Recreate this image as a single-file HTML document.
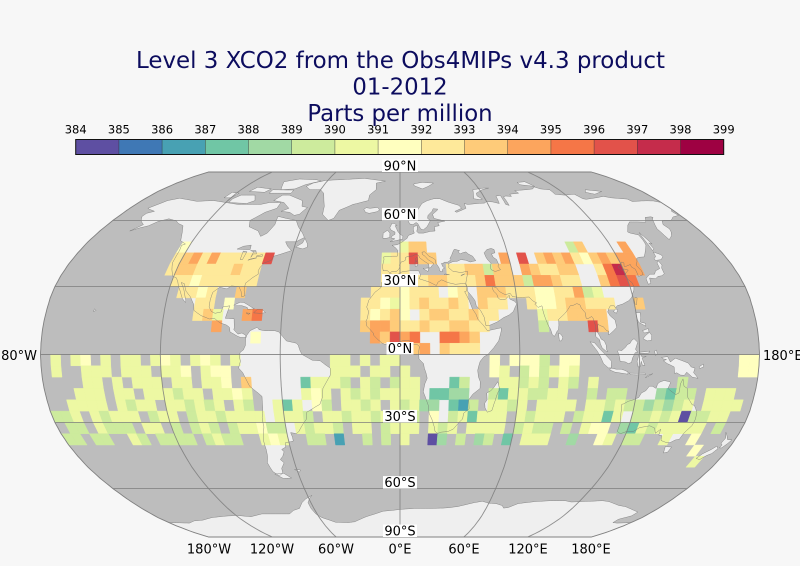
<!DOCTYPE html>
<html><head><meta charset="utf-8"><style>
html,body{margin:0;padding:0;background:#f7f7f7;}
svg{display:block;}
text{font-family:"DejaVu Sans","Liberation Sans",sans-serif;}
</style></head><body>
<svg id="s" xmlns="http://www.w3.org/2000/svg" width="800" height="566" viewBox="0 0 800 566">
<rect width="800" height="566" fill="#f7f7f7"/>
<g fill="#0c0c5e" font-size="22.8" text-anchor="middle">
<text x="400.5" y="68" textLength="529" lengthAdjust="spacingAndGlyphs">Level 3 XCO2 from the Obs4MIPs v4.3 product</text>
<text x="400" y="94.5">01-2012</text>
<text x="400" y="121">Parts per million</text>
</g>
<g id="cbar"></g>
<g id="map"></g>
<g font-size="13" fill="#000">
<rect x="382" y="159.5" width="36" height="12.5" fill="#fff"/><text x="400" y="170.5" text-anchor="middle">90°N</text>
<rect x="382" y="207.9" width="36" height="12.5" fill="#fff"/><text x="400" y="218.9" text-anchor="middle">60°N</text>
<rect x="382" y="274.1" width="36" height="12.5" fill="#fff"/><text x="400" y="285.1" text-anchor="middle">30°N</text>
<rect x="386.5" y="342" width="27" height="12.5" fill="#fff"/><text x="400" y="353" text-anchor="middle">0°N</text>
<rect x="383" y="409.9" width="34" height="12.5" fill="#fff"/><text x="400" y="420.9" text-anchor="middle">30°S</text>
<rect x="383" y="476.1" width="34" height="12.5" fill="#fff"/><text x="400" y="487.1" text-anchor="middle">60°S</text>
<rect x="383" y="524.5" width="34" height="12.5" fill="#fff"/><text x="400" y="535.5" text-anchor="middle">90°S</text>
<text x="37" y="360" text-anchor="end">180°W</text>
<text x="763" y="360">180°E</text>
<text x="209" y="553.5" text-anchor="middle">180°W</text>
<text x="272" y="553.5" text-anchor="middle">120°W</text>
<text x="336" y="553.5" text-anchor="middle">60°W</text>
<text x="400" y="553.5" text-anchor="middle">0°E</text>
<text x="464" y="553.5" text-anchor="middle">60°E</text>
<text x="528" y="553.5" text-anchor="middle">120°E</text>
<text x="591" y="553.5" text-anchor="middle">180°E</text>
</g>
</svg>
<script>
(function(){
var NS='http://www.w3.org/2000/svg';
function el(tag,attrs,parent){var e=document.createElementNS(NS,tag);for(var k in attrs)e.setAttribute(k,attrs[k]);parent.appendChild(e);return e;}
var COLORS=['#5e4fa2','#3f78b5','#48a1b3','#70c6a5','#a1d9a4','#cdeb9d','#edf8a3','#ffffbf','#fee99a','#fecb79','#fca55d','#f57647','#e2524a','#c52c4b','#9e0142'];
var cb=document.getElementById('cbar');
var x0=75.7,w=43.2;
for(var i=0;i<15;i++){el('rect',{x:x0+i*w,y:139.5,width:w+0.3,height:15,fill:COLORS[i]},cb);}
for(var i=1;i<15;i++){el('line',{x1:x0+i*w,y1:139.5,x2:x0+i*w,y2:154.5,stroke:'#333',"stroke-width":0.6,"stroke-opacity":0.7},cb);}
el('rect',{x:x0,y:139.5,width:648,height:15,fill:'none',stroke:'#111',"stroke-width":1},cb);
for(var i=0;i<16;i++){var t=el('text',{x:x0+i*w,y:133.5,"text-anchor":"middle","font-size":"11.5",fill:'#000'},cb);t.textContent=String(384+i);}
var XT=[1,.9986,.9954,.99,.9822,.973,.96,.9427,.9216,.8962,.8679,.835,.7986,.7597,.7186,.6732,.6213,.5722,.5322];
var YT=[0,.062,.124,.186,.248,.31,.372,.434,.4958,.5571,.6176,.6769,.7346,.7903,.8435,.8936,.9394,.9761,1];
var CX=400,CY=354.5,A=359.5,B=182.5;
function itp(T,a){a=Math.min(90,Math.abs(a));var k=Math.min(17,Math.floor(a/5));var t=(a-5*k)/5;return T[k]+(T[k+1]-T[k])*t;}
function P(lon,lat){var X=itp(XT,lat),Y=itp(YT,lat)*(lat<0?-1:1);return [CX+A*X*lon/180,CY-B*Y];}
function dens(pts,closed){var out=[];var n=pts.length;var m=closed?n:n-1;
 for(var i=0;i<m;i++){var a=pts[i],b=pts[(i+1)%n];var d=Math.max(Math.abs(b[0]-a[0]),Math.abs(b[1]-a[1]));var s=Math.max(1,Math.ceil(d/2));
  for(var k=0;k<s;k++){out.push([a[0]+(b[0]-a[0])*k/s,a[1]+(b[1]-a[1])*k/s]);}}
 if(!closed)out.push(pts[n-1]);return out;}
function pathOf(pts,closed){var q=dens(pts,closed).map(function(p){return P(p[0],p[1]);});
 return 'M'+q.map(function(p){return p[0].toFixed(1)+','+p[1].toFixed(1);}).join('L')+(closed?'Z':'');}
var map=document.getElementById('map');
var svg=document.getElementById('s');
var defs=el('defs',{},svg);
var ol=[];for(var la=90;la>=-90;la-=2.5)ol.push([180,la]);for(var la=-90;la<=90;la+=2.5)ol.push([-180,la]);
var olD=pathOf(ol,true);
var cp=el('clipPath',{id:'clipm'},defs);el('path',{d:olD},cp);
el('path',{d:olD,fill:'#bdbdbd'},map);
var g=el('g',{"clip-path":"url(#clipm)"},map);
var LAND=[
[[-168,66],[-162,70],[-156,71.3],[-141,69.6],[-130,70],[-120,69],[-110,68],[-95,68],[-90,69],[-82,69],[-82,66],[-88,64],[-94,60],[-92,57],[-85,55],[-82,52.5],[-79,54],[-77,58],[-78,62],[-72,61],[-65,60],[-62,57],[-58,54],[-56,52],[-60,50],[-66,50],[-64,48],[-61,46],[-66,44.5],[-70,43.5],[-70.5,41.7],[-74,40.5],[-75.5,38.5],[-76,37],[-75.5,35.5],[-78,34],[-81,31.5],[-81,28.5],[-80,26],[-81.5,25.5],[-82.5,28],[-84,30],[-88,30.3],[-90,29],[-94,29.7],[-97,27.5],[-97.5,24],[-97.5,21],[-96,19],[-94,18.2],[-91,18.8],[-90.5,21],[-87,21.5],[-88,18],[-88.5,16],[-84,15.8],[-83.5,12],[-83.7,11],[-81.5,9],[-79.5,9.5],[-77.5,8.5],[-77.5,7.5],[-80,7.5],[-81.5,8],[-85.5,10],[-86,12],[-87.5,13],[-91,14],[-94,16],[-96.5,15.7],[-101,17.2],[-105,19.5],[-105.5,22],[-108,25.5],[-111,28],[-113,31.3],[-114.8,31.8],[-112.5,29],[-110,24],[-110,23],[-112,24.8],[-114,28],[-115.5,30],[-117,32.5],[-118.5,34],[-120.5,34.5],[-122.5,37.5],[-124,40.5],[-124,46],[-124.7,48.4],[-123,49],[-127,50.5],[-130,54.5],[-133,57.5],[-137,58.5],[-140,59.8],[-146,60.8],[-151,59.5],[-154,57.5],[-158,56.5],[-162,55],[-158,58],[-162,59.8],[-165,62],[-164.5,63.5],[-161,64.5],[-166,65.5]],
[[-80,73],[-72,71],[-68,70],[-66,67],[-62,66.5],[-65,63],[-68,62.5],[-72,64],[-78,64.5],[-74,66],[-80,69],[-88,70],[-85,73]],
[[-118,69],[-105,68.5],[-101,70],[-105,73],[-115,73],[-118,71]],
[[-90,76],[-80,76.5],[-75,79],[-65,81.5],[-70,82.5],[-85,83],[-95,81],[-92,78]],
[[-125,71.5],[-120,71.5],[-118,74],[-124,74.5]],
[[-96,74],[-80,74],[-80,75.8],[-96,76]],
[[-112,75],[-100,74.5],[-98,76.5],[-110,77.5]],
[[-73,78],[-68,76],[-60,76],[-56,74],[-53,70],[-51,67],[-50,63],[-45,60],[-42,61],[-40,65],[-32,68],[-22,70],[-22,73],[-18,76],[-19,80],[-12,81.5],[-30,83.5],[-50,82.5],[-62,82],[-70,80]],
[[-59.3,47.6],[-56,49.5],[-55.5,51.6],[-53,49],[-52.7,47.5],[-55,46.8]],
[[-85,21.8],[-82,23.1],[-80,23],[-77.5,21.8],[-75,20.5],[-74.2,20.2],[-77.5,19.8],[-78,20.8],[-81,21.6],[-84.5,21.5]],
[[-74.5,18.4],[-72.8,19.9],[-70,19.7],[-68.4,18.5],[-71,18.2]],
[[-78.3,18.4],[-76.2,18.2],[-77,17.7]],
[[-156,19],[-154.8,19.5],[-155.8,20.2]],
[[-77,8.5],[-75.5,10.5],[-72,12],[-71,11],[-68,10.5],[-63,10.5],[-61,10],[-57,6],[-52,5],[-51,4],[-50,1.5],[-49,0],[-44,-2.5],[-40,-2.8],[-37,-4.8],[-35,-6],[-35,-9],[-37,-12],[-39,-15],[-39.5,-19],[-41,-22],[-43,-23],[-48,-25.5],[-48.5,-28.5],[-51,-31],[-53.5,-34],[-55,-35],[-58,-34.5],[-57.5,-36.5],[-57.5,-38.3],[-62,-39],[-62.5,-41],[-65,-42],[-64,-43],[-65.5,-45],[-67.5,-46.5],[-66,-48],[-68.5,-50.5],[-69,-52.5],[-70.5,-53.5],[-72,-53.8],[-74.5,-52],[-75.5,-48],[-74,-45],[-73.5,-42],[-73.5,-38],[-71.5,-32],[-71.5,-28],[-70.5,-24],[-70.2,-18.5],[-72,-17],[-76,-14],[-79,-8],[-81,-6],[-80,-3],[-80.5,-0.5],[-80,1],[-78.5,2],[-77.5,4],[-77.5,7]],
[[-68.5,-52.8],[-65,-55],[-70,-55.2],[-74,-53.2]],
[[-61.3,-51],[-58,-51.3],[-59,-52.3]],
[[-17,21],[-16,24],[-13,27.5],[-10,29.5],[-9.5,32],[-6.5,34],[-5.5,35.8],[-2,35],[1,36.5],[5,37],[10,37],[11,35],[10,33.5],[13,32.7],[15.5,32],[19,30.5],[20,32],[22,33],[25,31.8],[29,31],[32,31.3],[34.3,31.3],[34.9,29.5],[34.3,27.9],[33.5,27.8],[35.5,24],[37,20],[38.5,18],[39.5,15.5],[42,13],[43.3,11.5],[44,10.5],[51,11.8],[51,10.5],[49.5,6],[47,3],[44,0],[42,-1],[40.2,-3],[39.5,-5],[39,-7],[39.5,-10],[40.5,-12],[40.5,-15],[37,-17.5],[35,-20],[35.5,-24],[32.8,-26],[32.5,-28.5],[31,-29.8],[28,-33],[25.5,-34],[22,-34.3],[20,-34.8],[18.5,-34],[18,-32],[16.5,-28.5],[15,-26],[14.5,-22.5],[13,-19],[11.8,-16.5],[12.5,-13],[13.7,-10.5],[13,-8],[12.2,-6],[11.8,-4],[9.5,-2],[9.3,1],[9.7,3.5],[8.5,4.5],[6,4.3],[4.5,6.3],[1,6],[-2,4.7],[-4.5,5.2],[-7.5,4.4],[-9,5],[-11.5,6.9],[-13.2,8.5],[-13.5,9.5],[-15,11],[-16.7,12.5],[-17.2,14.7],[-16.5,16],[-16,19]],
[[49.3,-12],[50.5,-15.5],[49.5,-17],[48.5,-20.5],[47.2,-24.8],[45,-25.5],[43.6,-23.5],[43.3,-21.5],[44.4,-20],[44,-17],[46,-16],[47.5,-14.5]],
[[-9,37],[-9.5,39],[-8.8,42],[-9,43.2],[-4,43.5],[-1.5,43.5],[-1.2,46],[-2.5,47.3],[-4.5,48.4],[-1.5,48.7],[1.5,50],[3,51],[4,51.5],[5,53],[7,53.5],[8.5,54],[8,55.5],[8.2,57],[10.5,57.7],[10.5,56],[10,54.8],[11,54],[14,54],[18,54.8],[21,55],[21,57],[24,57.5],[23.5,59],[28,59.7],[25,60.3],[21.5,61],[21,63],[24.5,65],[25,65.6],[22,65.8],[21,64.5],[18,62.5],[17.5,61],[19,60],[18.5,59.3],[16.5,57],[14,55.5],[12.5,56],[11,58.5],[10,59],[8,58],[6,58.3],[5,60],[5,62],[8,63.5],[11,64.5],[13,66.5],[15,68.5],[19,70],[24,71],[28,71],[31,70],[33,69.3],[40,67.5],[41,66],[36,64.5],[37,64],[44,66],[44,68.5],[46,68],[53,68.5],[58,68.7],[60,69.5],[64,69.3],[68,68.5],[69,72.5],[72.5,72.8],[72,68],[74,67.5],[74,72],[76,72.5],[80,72.3],[80,73.5],[87,74],[86,75.5],[95,76],[101,76.5],[104,77.7],[107,76.5],[113,76],[113,73.5],[119,73],[127,73.5],[129,71],[131,70.7],[139,71.5],[146,72.3],[150,71.5],[160,70.8],[161,69.5],[168,69.8],[171,69.9],[176,69.8],[180,69],[180,65.5],[178,64.5],[179,62.5],[174,61.7],[170,60],[164,59.8],[162,58],[163,56],[162,54.5],[160,52.8],[156.5,51],[156,53],[155.5,56],[156.8,57.8],[159,60.5],[161,61.5],[160,61.8],[156,61.5],[153,59.2],[148,59.3],[143,59.3],[140,57.8],[136,54.5],[137,54],[141,53.2],[141,51],[140.5,48.5],[138,46],[135,43.2],[132,43],[130.5,42.6],[129.5,41],[128,39.5],[129.4,37],[129.3,35.3],[126.5,34.5],[126.5,37.7],[125,38.7],[125,39.8],[122.2,39],[121.2,39],[122,40.5],[121,40.9],[119,39.2],[118,39],[117.7,38.5],[119,37.2],[120.5,37.8],[122.5,37.3],[120.5,36],[119.2,34.8],[120.5,33],[121.8,31.7],[122,30],[121.5,28.5],[120,26.5],[119.5,25.4],[117.5,23.8],[114,22.3],[111,21.5],[110,20.5],[109.5,21.5],[107.5,21.5],[106.5,20.3],[105.7,18.8],[106.7,17],[108.8,15.3],[109.3,12],[107.5,10.5],[105.5,9],[104.8,8.7],[105,10.3],[104,10.5],[102.5,12.3],[100.8,12.8],[100,13.5],[99.2,10],[100.3,8.3],[101,6.8],[102.5,6],[103.4,4],[103.5,2],[104.2,1.3],[103.5,1.3],[101.3,2.9],[100.4,4.8],[100.2,6.5],[98.3,8],[98.5,10],[98.7,12.5],[97.8,16],[97.2,16.8],[95.5,16],[94.3,16],[94.2,18.5],[92.5,20.5],[92,22],[90.5,22.5],[88.5,21.7],[87,21.5],[85.5,19.8],[84,18.3],[82.3,17],[80.3,15.5],[80.2,13],[79.8,11],[79,10.2],[78.2,8.9],[77.5,8],[76.5,8.9],[75.8,11.2],[74.8,12.8],[74,15],[73.2,17.5],[72.8,19.5],[72.7,21],[72.5,21.5],[70.5,20.8],[69,22.3],[70,22.8],[68.5,23.5],[67.3,24.5],[66.5,25.4],[64.5,25.3],[61.5,25.2],[58,25.6],[57,27],[54.5,26.5],[53.5,26.8],[51.5,27.9],[50.2,29.5],[48.5,30],[48,29.5],[48.5,28],[50,26.7],[50.5,25],[51.5,24.3],[54,24.2],[55.5,25.5],[56.3,26.2],[56.5,24.5],[58.8,23.5],[59.8,22.4],[58.5,20.5],[57.7,19],[55.5,17.5],[52.5,16.3],[49,14.3],[45,12.8],[43.4,12.7],[42.8,15.5],[42.7,16.5],[41,19.5],[39,21.5],[38.5,23.8],[37,25.8],[35,28],[35,29.5],[34.5,31.5],[35,33],[35.9,35.5],[36.1,36.8],[32.5,36.2],[30.5,36.5],[28.2,36.8],[27.4,37.5],[26.3,38.3],[26.5,39.5],[26.2,40.1],[28.9,41.1],[31.3,41.2],[33.5,42],[36,41.7],[38.4,40.9],[41.5,41.5],[40.2,43.5],[38,44.5],[36.9,45.4],[35,45],[33.5,44.5],[32.5,45.5],[33.5,46],[31,46.6],[30.5,46.5],[29.5,45.3],[28.7,44],[27.5,42.5],[28,41.9],[26,40.8],[24,40.8],[23.5,40.2],[22.6,40.3],[23,39],[24,38.2],[23,37.8],[22.5,36.5],[21.3,37],[21.1,38.3],[20.2,39.5],[19.4,40.4],[19.5,41.8],[18.5,42.5],[16,43.5],[15.2,44.3],[13.7,45.5],[12.3,45.3],[12.4,44.3],[13.8,43.5],[15.5,41.9],[16.8,41.2],[18.5,40.2],[17,39],[16.6,38.4],[15.7,38.2],[15.6,40],[14,40.8],[12.5,41.7],[11,42.7],[10.2,43.9],[8.8,44.4],[7,43.6],[4.5,43.4],[3.1,43],[3.2,41.9],[2,41.2],[0.8,41],[-0.3,39.5],[0,38.8],[-0.7,37.6],[-2,36.7],[-4.4,36.7],[-5.4,36],[-6.5,36.9],[-7.4,37.2]],
[[-5.7,50],[1.5,51.2],[1.7,52.7],[0,53.5],[-1.5,55],[-2,56],[-3,57.5],[-1.8,57.6],[-3.5,58.6],[-5,58.6],[-6.2,56.5],[-5.5,55.5],[-3,54.5],[-3,53.4],[-4.5,52.8],[-5.3,51.8],[-3,51.4]],
[[-6,52],[-6,54],[-7.5,55.3],[-10,54],[-10,51.6],[-8,51.6]],
[[-22.5,64],[-20,63.5],[-15,64.3],[-13.5,65.2],[-15,66.5],[-20,66],[-22.5,66.3],[-24,65.5]],
[[11,78.5],[17,76.5],[22,78],[27,80],[18,80.5],[11,79.5]],
[[52,71],[56,70.5],[58,70.8],[55.5,72.5],[56,74],[62,76],[68,77],[64,77],[55,76]],
[[95,79],[105,78],[102,81],[95,80.5]],
[[137,74.5],[142,73.5],[150,75],[140,76]],
[[12.4,38],[15.6,38.3],[15,36.7]],
[[8.2,39],[9.6,39.2],[9.8,41],[8.2,41]],
[[8.6,41.4],[9.5,41.4],[9.5,43],[8.6,42.5]],
[[23.5,35.3],[26.3,35.2],[24,35.6]],
[[32.3,34.7],[34.5,35.6],[33,35.3]],
[[130,31],[131.5,31.5],[132,33.8],[135,33.5],[136.8,34.5],[139,34.8],[140.8,35.7],[141,38.3],[142,39.5],[141.4,41.4],[140,40.5],[139.8,38],[137,37],[135.5,35.5],[133,35.5],[131,34.3],[130,33.5]],
[[140,41.5],[141,41.7],[143.5,42],[145.5,43.3],[145,44.2],[141.8,45.4],[141.5,43.3],[140,42.5]],
[[142,46],[143.5,46.8],[143,49.5],[144.5,49],[143.3,52.5],[142.5,54.3],[142,51]],
[[120.2,22.5],[121,22],[122,25],[121,25.3]],
[[108.6,19],[110,18.2],[111,19.7],[110,20.2]],
[[79.8,9.5],[81,8.8],[81.8,7.5],[81,6],[80,6],[79.8,8]],
[[95.3,5.6],[97.5,5.2],[100.3,2.3],[103.7,-0.9],[106,-3],[106,-5.9],[104.5,-5.9],[102,-4],[100.4,-1],[98.7,1.7]],
[[105.2,-6.8],[106,-6],[108.5,-6.5],[111,-6.5],[112.5,-6.9],[114.5,-7.7],[114.5,-8.7],[111,-8.2],[108,-7.8]],
[[115,-8.2],[119,-8.3],[123,-8.2],[123.5,-8.8],[119,-9],[116,-8.9]],
[[123.5,-10.3],[127,-8.5],[124.5,-9.3]],
[[109,1.5],[110,-1.3],[110.3,-3],[113,-3.3],[114.5,-4],[116,-3.5],[116.5,-1.5],[117.8,0.8],[119,1],[118,2.3],[119.2,5.4],[117.5,7],[116.2,6.2],[115.3,4.9],[114,4.4],[113,3.2],[111,1.7],[109.6,2]],
[[119.4,-5.5],[120.4,-5.5],[120.9,-3],[121.5,-4.7],[122.8,-4.8],[121.2,-1.5],[123.3,-0.9],[121,-0.9],[120.3,0.5],[124.5,0.6],[125.2,1.5],[120,1],[119.5,-0.5],[118.8,-3]],
[[127.5,1.5],[128.5,2],[128.8,0.5],[128,-0.5]],
[[131,-1.3],[134,-0.9],[135.5,-3.3],[138,-1.6],[141,-2.6],[144.5,-3.8],[146,-5.5],[148,-6],[147.5,-8],[150,-10.5],[147,-10],[144,-7.8],[143,-9.2],[141,-9.1],[139,-8.1],[138,-8.4],[137.5,-5.5],[134,-4],[132,-2.8],[133.5,-2.2],[132,-2]],
[[150,-5.5],[152,-4.2],[152.3,-5.5],[150.5,-6.2]],
[[120,18.5],[122.2,18.5],[122,16.3],[121.5,14.3],[124,13.8],[124,12.5],[123,13],[120.6,14.2],[120,16]],
[[122,10.5],[125,11.5],[125.3,10],[123,9.5]],
[[122,7],[124,6],[126.2,6.3],[126.5,8.5],[125.5,9.8],[123.5,8.5]],
[[113.5,-22],[114,-26],[115,-30],[115,-34],[117,-35],[120,-34],[123.5,-34],[126,-32.3],[131,-31.5],[134,-32.5],[135.5,-34.8],[137.5,-33],[137.8,-35.6],[139.5,-35.8],[140.5,-38],[143.5,-38.8],[146,-39],[148,-37.8],[150,-37.5],[150.5,-35],[151.5,-33.5],[153,-31.5],[153.5,-28.5],[153,-25.5],[150.8,-22.5],[149.5,-22.2],[146.5,-19],[145.3,-15],[143.5,-14],[142.5,-10.8],[141.5,-13],[141.5,-17],[140,-17.7],[137,-16],[135.5,-15],[136.5,-12.5],[136,-12],[133,-11.5],[131,-12.2],[130,-13],[129.5,-15],[127.5,-14],[126,-14],[124.5,-16],[122.5,-17],[121.5,-19],[119,-20],[116.5,-20.7],[114.5,-21.8]],
[[144.7,-40.7],[148.3,-40.9],[148,-43.2],[146,-43.6]],
[[172.7,-34.4],[174.5,-36],[176,-37.6],[178.5,-37.7],[177.5,-39.3],[176,-41.3],[174.7,-41.3],[175,-40],[173.8,-39.2],[174.5,-37]],
[[172.7,-40.5],[174.3,-41.7],[173,-43.8],[171,-44.7],[169,-46.6],[166.5,-46],[168,-44],[171,-42]],
[[-180,-78],[-165,-78.3],[-158,-77],[-150,-76.5],[-140,-75],[-130,-74.3],[-120,-73.8],[-110,-74.5],[-100,-73],[-90,-73],[-80,-73],[-75,-71],[-70,-70],[-66,-67],[-62,-65],[-57,-63.3],[-59,-64.5],[-62,-67],[-62,-70],[-61,-73],[-58,-75],[-50,-77.8],[-40,-78],[-35,-77.5],[-30,-76],[-25,-74.5],[-18,-73],[-12,-71.5],[-5,-71],[0,-70.5],[10,-70],[20,-70],[30,-69.8],[35,-69.5],[40,-69],[45,-68],[50,-67],[55,-66.3],[60,-67.3],[65,-67.5],[70,-68.5],[72,-69.8],[75,-69.5],[80,-67.5],[85,-67],[90,-66.5],[100,-66],[110,-66],[115,-66.7],[120,-66.5],[130,-66.2],[135,-66],[140,-66.5],[145,-67.5],[150,-68.5],[155,-69],[160,-70],[165,-71],[170,-72],[170,-74],[165,-76],[166,-78],[170,-78.3],[180,-78],[180,-90],[-180,-90]]
];
var WATER=[
[[47,45],[49,46.5],[51.5,47],[53,46.5],[53,45],[51,44.5],[51.5,43],[53,42],[53.5,40],[53,39],[54,37.5],[51,36.7],[49,37.5],[48.8,38.5],[49.5,40.3],[48,42],[47.5,43]],
[[-92,46.7],[-89,48],[-85,48.5],[-84.5,46.5],[-87,46.5]],
[[-87.8,42],[-86.5,42],[-85.8,45.5],[-88,45.8]],
[[-84,46],[-82,45.5],[-82.4,43],[-81.7,44.5],[-80,44.5],[-81,46]],
[[-83.4,41.7],[-79,42.8],[-80.5,42.6],[-82.5,42.2]],
[[-79.5,43.3],[-76.2,43.5],[-76.5,44.2],[-79.4,43.7]]
];
var landD=LAND.map(function(p){return pathOf(p,true);});
var waterD=WATER.map(function(p){return pathOf(p,true);});
landD.forEach(function(d){el('path',{d:d,fill:'#efefef'},g);});
waterD.forEach(function(d){el('path',{d:d,fill:'#bdbdbd'},g);});
var cells=el('g',{},g);
function cell(lon0,lat0,b){var c=[P(lon0,lat0),P(lon0+5,lat0),P(lon0+5,lat0+5),P(lon0,lat0+5)];
 el('polygon',{points:c.map(function(p){return p[0].toFixed(1)+','+p[1].toFixed(1);}).join(' '),fill:COLORS[b],stroke:COLORS[b],"stroke-width":0.45},cells);}
function row(lat0,spec){spec.split(' ').forEach(function(seg){var pr=seg.split(':');var i=+pr[0];var ch=pr[1];
 for(var k=0;k<ch.length;k++){var c=ch[k];if(c!=='.'){cell(-180+5*i,lat0,parseInt(c,16));}i++;}});}
row(45,"11:7 36:699 55:59 61:a");
row(40,"11:89a8a88888c 34:688c99 47:a.c.9a9a879a9aa");
row(35,"11:8998888988 34:888....8899599.a98899..8bdaa");
row(30,"12:887888888 34:88888998889b9995aa988..9bcb");
row(25,"13:8878..9 33:8887888.78.9998887788a56");
row(20,"15:88.7 32:88767898898.988..877899888..9");
row(15,"15:896..ab 32:87897.89988988....6889999");
row(10,"17:a 32:9aa9889889988 50:5 55:c9");
row(5,"21:7 33:a9cab..bba9");
row(0,"37:9a.9888");
row(-5,"0:"+".6.67.6.66.676.676.6"+"........."+"66.6.66"+"........."+"7.7775.77.."+".............."+"77");
row(-10,"0:"+".6..666.666.667.677."+"........."+"666.66."+"6........"+"76.575676.."+".............."+"77");
row(-15,"0:"+"....66.6.666.66.667."+"9.....366"+"65.65.5"+"66...35.."+".66565.65.6"+"........5....."+"..");
row(-20,"0:"+"...666.66.666566.667"+"6.....676"+".656566"+"66.3344.."+"53665566..5"+".55...4355.666"+"..");
row(-25,"0:"+"..6666.6566.665656.6"+"5..636.75"+".6656.6"+"5644.325."+"6656.6666.6"+"6565545456.666"+"6.");
row(-30,"0:"+"556.65666.566.566566"+"66.6665.6"+"6566566"+"65.7.5636"+"66.65666.56"+"636.5565605566"+"..");
row(-35,"0:"+".55.6555.66.5.565.56"+"6755.6566"+"5.66.56"+"66.656.66"+"66.5655.5.6"+"77.436566666.5"+"..");
row(-40,"0:"+"55.55..65."+"5555.5655."+".676..55.2"+"..5.5.6..0"+"4.5.45.3.6"+"66..4..76."+"55..6..7.."+"..");
row(-45,"68:7");
row(-50,"69:6");
landD.forEach(function(d){el('path',{d:d,fill:'none',stroke:'#6e6e6e',"stroke-width":0.45,"stroke-opacity":0.85},g);});
waterD.forEach(function(d){el('path',{d:d,fill:'none',stroke:'#6e6e6e',"stroke-width":0.45,"stroke-opacity":0.85},g);});
var gl=el('g',{stroke:'#7d7d7d',"stroke-width":0.9,fill:'none',"stroke-opacity":0.85},map);
[-60,-30,0,30,60].forEach(function(la){var a=P(-180,la),b=P(180,la);el('line',{x1:a[0],y1:a[1],x2:b[0],y2:b[1]},gl);});
[-120,-60,0,60,120].forEach(function(lo){var pts=[];for(var la=-90;la<=90;la+=2)pts.push([lo,la]);el('path',{d:pathOf(pts,false)},gl);});
el('path',{d:olD,fill:'none',stroke:'#808080',"stroke-width":0.9},map);
})();
</script>
</body></html>
